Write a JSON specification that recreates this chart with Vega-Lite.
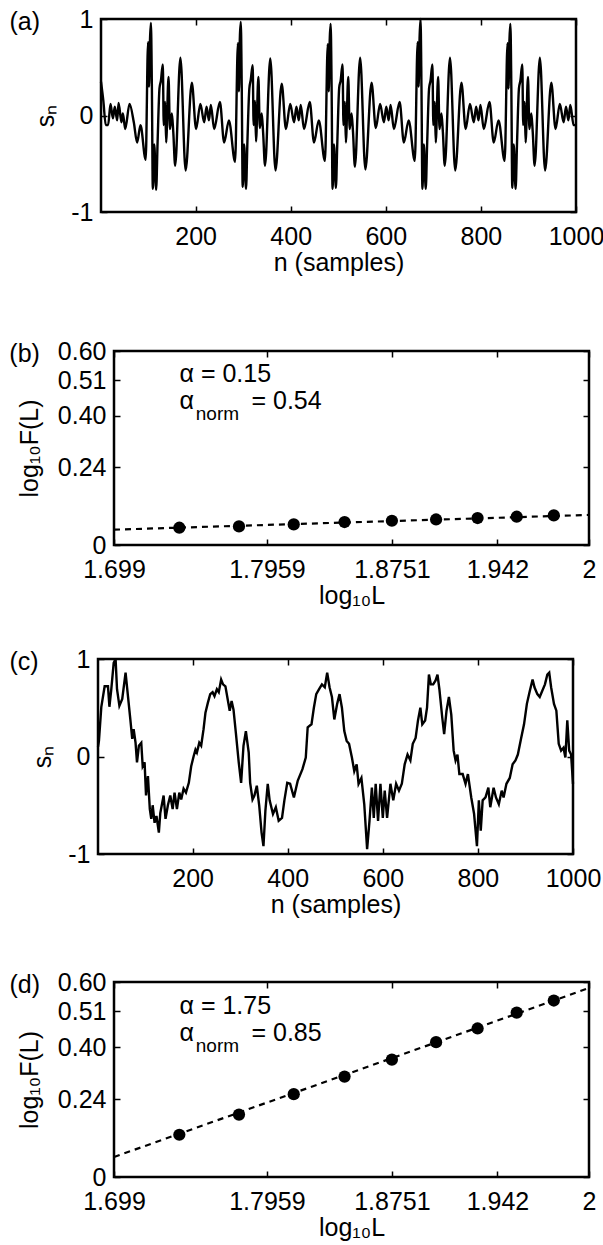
{
  "$schema": "https://vega.github.io/schema/vega-lite/v6.json",
  "padding": {"left": 7, "top": 5, "right": 0, "bottom": 0},
  "datasets": {
    "sigA": [
      {"n": 1, "s": 0.35}, {"n": 6, "s": 0.15}, {"n": 11, "s": -0.1}, {"n": 16, "s": -0.1}, {"n": 21, "s": 0.12},
      {"n": 26, "s": -0.03}, {"n": 30, "s": 0.09}, {"n": 35, "s": -0.05}, {"n": 38, "s": 0.13}, {"n": 44, "s": -0.07},
      {"n": 47, "s": 0.02}, {"n": 52, "s": -0.14}, {"n": 61, "s": 0.12}, {"n": 70, "s": -0.07}, {"n": 77, "s": -0.28},
      {"n": 84, "s": -0.1}, {"n": 95, "s": -0.46}, {"n": 100, "s": 0.76}, {"n": 102, "s": 0.3}, {"n": 104, "s": 0.78},
      {"n": 106, "s": 0.96}, {"n": 108, "s": 0.3}, {"n": 110, "s": -0.76}, {"n": 113, "s": -0.3}, {"n": 117, "s": -0.77},
      {"n": 120, "s": -0.28}, {"n": 124, "s": 0.28}, {"n": 127, "s": 0.36}, {"n": 131, "s": 0.53}, {"n": 133, "s": -0.1},
      {"n": 136, "s": 0.14}, {"n": 138, "s": -0.28}, {"n": 143, "s": 0.4}, {"n": 146, "s": -0.14}, {"n": 150, "s": 0.02},
      {"n": 153, "s": -0.17}, {"n": 157, "s": -0.52}, {"n": 168, "s": 0.6}, {"n": 179, "s": -0.57}, {"n": 192, "s": 0.34},
      {"n": 201, "s": -0.14}, {"n": 210, "s": 0.12}, {"n": 218, "s": -0.07}, {"n": 223, "s": 0.09}, {"n": 228, "s": -0.05},
      {"n": 232, "s": 0.11}, {"n": 239, "s": -0.14}, {"n": 251, "s": 0.14}, {"n": 260, "s": -0.28}, {"n": 270, "s": -0.05},
      {"n": 283, "s": -0.48}, {"n": 289, "s": 0.75}, {"n": 291, "s": 0.25}, {"n": 293, "s": 0.8}, {"n": 295, "s": 0.97},
      {"n": 297, "s": 0.3}, {"n": 299, "s": -0.74}, {"n": 302, "s": -0.3}, {"n": 306, "s": -0.76}, {"n": 309, "s": -0.26},
      {"n": 313, "s": 0.28}, {"n": 316, "s": 0.37}, {"n": 320, "s": 0.52}, {"n": 322, "s": -0.1}, {"n": 325, "s": 0.15},
      {"n": 327, "s": -0.27}, {"n": 332, "s": 0.4}, {"n": 335, "s": -0.13}, {"n": 339, "s": 0.02}, {"n": 342, "s": -0.18},
      {"n": 346, "s": -0.52}, {"n": 357, "s": 0.59}, {"n": 368, "s": -0.57}, {"n": 381, "s": 0.33}, {"n": 390, "s": -0.14},
      {"n": 399, "s": 0.12}, {"n": 407, "s": -0.07}, {"n": 412, "s": 0.09}, {"n": 417, "s": -0.05}, {"n": 421, "s": 0.11},
      {"n": 428, "s": -0.14}, {"n": 440, "s": 0.14}, {"n": 449, "s": -0.28}, {"n": 459, "s": -0.05}, {"n": 472, "s": -0.47},
      {"n": 478, "s": 0.74}, {"n": 480, "s": 0.25}, {"n": 482, "s": 0.78}, {"n": 484, "s": 0.95}, {"n": 486, "s": 0.3},
      {"n": 488, "s": -0.76}, {"n": 491, "s": -0.3}, {"n": 495, "s": -0.75}, {"n": 498, "s": -0.28}, {"n": 502, "s": 0.29},
      {"n": 505, "s": 0.36}, {"n": 509, "s": 0.53}, {"n": 511, "s": -0.1}, {"n": 514, "s": 0.14}, {"n": 516, "s": -0.28},
      {"n": 521, "s": 0.4}, {"n": 524, "s": -0.14}, {"n": 528, "s": 0.02}, {"n": 531, "s": -0.17}, {"n": 535, "s": -0.53},
      {"n": 546, "s": 0.6}, {"n": 557, "s": -0.56}, {"n": 570, "s": 0.34}, {"n": 579, "s": -0.13}, {"n": 588, "s": 0.12},
      {"n": 596, "s": -0.07}, {"n": 601, "s": 0.09}, {"n": 606, "s": -0.05}, {"n": 610, "s": 0.11}, {"n": 617, "s": -0.14},
      {"n": 629, "s": 0.14}, {"n": 638, "s": -0.28}, {"n": 648, "s": -0.05}, {"n": 661, "s": -0.47}, {"n": 667, "s": 0.76},
      {"n": 669, "s": 0.3}, {"n": 671, "s": 0.8}, {"n": 673, "s": 1.0}, {"n": 675, "s": 0.3}, {"n": 677, "s": -0.76},
      {"n": 680, "s": -0.3}, {"n": 684, "s": -0.76}, {"n": 687, "s": -0.28}, {"n": 691, "s": 0.28}, {"n": 694, "s": 0.36},
      {"n": 698, "s": 0.53}, {"n": 700, "s": -0.1}, {"n": 703, "s": 0.14}, {"n": 705, "s": -0.28}, {"n": 710, "s": 0.4},
      {"n": 713, "s": -0.14}, {"n": 717, "s": 0.02}, {"n": 720, "s": -0.17}, {"n": 724, "s": -0.52}, {"n": 735, "s": 0.6},
      {"n": 746, "s": -0.57}, {"n": 759, "s": 0.34}, {"n": 768, "s": -0.14}, {"n": 777, "s": 0.12}, {"n": 785, "s": -0.07},
      {"n": 790, "s": 0.09}, {"n": 795, "s": -0.05}, {"n": 799, "s": 0.11}, {"n": 806, "s": -0.14}, {"n": 818, "s": 0.14},
      {"n": 827, "s": -0.28}, {"n": 837, "s": -0.05}, {"n": 850, "s": -0.47}, {"n": 856, "s": 0.75}, {"n": 858, "s": 0.28},
      {"n": 860, "s": 0.78}, {"n": 862, "s": 0.95}, {"n": 864, "s": 0.3}, {"n": 866, "s": -0.75}, {"n": 869, "s": -0.3},
      {"n": 873, "s": -0.76}, {"n": 876, "s": -0.28}, {"n": 880, "s": 0.28}, {"n": 883, "s": 0.36}, {"n": 887, "s": 0.53},
      {"n": 889, "s": -0.1}, {"n": 892, "s": 0.14}, {"n": 894, "s": -0.28}, {"n": 899, "s": 0.4}, {"n": 902, "s": -0.14},
      {"n": 906, "s": 0.02}, {"n": 909, "s": -0.17}, {"n": 913, "s": -0.52}, {"n": 924, "s": 0.6}, {"n": 935, "s": -0.57},
      {"n": 948, "s": 0.34}, {"n": 957, "s": -0.14}, {"n": 966, "s": 0.12}, {"n": 974, "s": -0.07}, {"n": 979, "s": 0.09},
      {"n": 984, "s": -0.05}, {"n": 988, "s": 0.11}, {"n": 995, "s": -0.1}, {"n": 1000, "s": -0.1}
    ],
    "sigC": [
      {"n": 1, "s": 0.1}, {"n": 3, "s": 0.16}, {"n": 8, "s": 0.51}, {"n": 15, "s": 0.72}, {"n": 22, "s": 0.72},
      {"n": 25, "s": 0.51}, {"n": 29, "s": 0.69}, {"n": 34, "s": 0.96}, {"n": 38, "s": 1.0}, {"n": 41, "s": 0.69},
      {"n": 46, "s": 0.52}, {"n": 52, "s": 0.59}, {"n": 59, "s": 0.86}, {"n": 64, "s": 0.62}, {"n": 69, "s": 0.38},
      {"n": 73, "s": 0.18}, {"n": 76, "s": 0.28}, {"n": 80, "s": 0.14}, {"n": 83, "s": -0.06}, {"n": 87, "s": 0.11},
      {"n": 92, "s": 0.14}, {"n": 95, "s": -0.1}, {"n": 99, "s": -0.06}, {"n": 102, "s": -0.4}, {"n": 106, "s": -0.2},
      {"n": 110, "s": -0.54}, {"n": 113, "s": -0.64}, {"n": 116, "s": -0.5}, {"n": 120, "s": -0.68}, {"n": 124, "s": -0.61},
      {"n": 129, "s": -0.78}, {"n": 132, "s": -0.58}, {"n": 139, "s": -0.4}, {"n": 143, "s": -0.64}, {"n": 148, "s": -0.5},
      {"n": 153, "s": -0.4}, {"n": 158, "s": -0.54}, {"n": 162, "s": -0.37}, {"n": 167, "s": -0.54}, {"n": 172, "s": -0.37},
      {"n": 176, "s": -0.44}, {"n": 181, "s": -0.33}, {"n": 186, "s": -0.37}, {"n": 192, "s": -0.27}, {"n": 197, "s": -0.1},
      {"n": 202, "s": 0.0}, {"n": 206, "s": 0.07}, {"n": 209, "s": 0.04}, {"n": 214, "s": 0.14}, {"n": 218, "s": 0.11},
      {"n": 223, "s": 0.28}, {"n": 227, "s": 0.45}, {"n": 232, "s": 0.55}, {"n": 237, "s": 0.64}, {"n": 242, "s": 0.66},
      {"n": 246, "s": 0.62}, {"n": 251, "s": 0.69}, {"n": 255, "s": 0.66}, {"n": 260, "s": 0.79}, {"n": 264, "s": 0.74},
      {"n": 269, "s": 0.72}, {"n": 274, "s": 0.58}, {"n": 278, "s": 0.47}, {"n": 282, "s": 0.57}, {"n": 286, "s": 0.48},
      {"n": 291, "s": 0.24}, {"n": 297, "s": -0.06}, {"n": 302, "s": -0.27}, {"n": 307, "s": 0.11}, {"n": 312, "s": 0.26},
      {"n": 318, "s": 0.04}, {"n": 321, "s": -0.27}, {"n": 326, "s": -0.44}, {"n": 330, "s": -0.4}, {"n": 335, "s": -0.3},
      {"n": 340, "s": -0.5}, {"n": 345, "s": -0.78}, {"n": 349, "s": -0.92}, {"n": 353, "s": -0.56}, {"n": 358, "s": -0.28},
      {"n": 362, "s": -0.45}, {"n": 369, "s": -0.59}, {"n": 375, "s": -0.52}, {"n": 381, "s": -0.66}, {"n": 388, "s": -0.63},
      {"n": 393, "s": -0.45}, {"n": 399, "s": -0.27}, {"n": 405, "s": -0.28}, {"n": 413, "s": -0.42}, {"n": 421, "s": -0.25},
      {"n": 431, "s": -0.13}, {"n": 438, "s": -0.01}, {"n": 442, "s": 0.3}, {"n": 450, "s": 0.33}, {"n": 455, "s": 0.5},
      {"n": 460, "s": 0.64}, {"n": 466, "s": 0.69}, {"n": 472, "s": 0.74}, {"n": 478, "s": 0.71}, {"n": 483, "s": 0.86},
      {"n": 488, "s": 0.71}, {"n": 493, "s": 0.61}, {"n": 498, "s": 0.38}, {"n": 504, "s": 0.54}, {"n": 509, "s": 0.64},
      {"n": 514, "s": 0.5}, {"n": 519, "s": 0.26}, {"n": 524, "s": 0.16}, {"n": 529, "s": 0.13}, {"n": 535, "s": -0.01},
      {"n": 540, "s": -0.15}, {"n": 545, "s": -0.08}, {"n": 549, "s": -0.28}, {"n": 555, "s": -0.22}, {"n": 561, "s": -0.49},
      {"n": 567, "s": -0.95}, {"n": 572, "s": -0.66}, {"n": 577, "s": -0.32}, {"n": 581, "s": -0.63}, {"n": 585, "s": -0.28},
      {"n": 590, "s": -0.66}, {"n": 595, "s": -0.28}, {"n": 600, "s": -0.63}, {"n": 604, "s": -0.35}, {"n": 609, "s": -0.63},
      {"n": 616, "s": -0.28}, {"n": 622, "s": -0.45}, {"n": 628, "s": -0.28}, {"n": 634, "s": -0.35}, {"n": 640, "s": -0.28},
      {"n": 646, "s": -0.08}, {"n": 652, "s": 0.02}, {"n": 658, "s": -0.04}, {"n": 663, "s": 0.13}, {"n": 669, "s": 0.19},
      {"n": 674, "s": 0.37}, {"n": 679, "s": 0.5}, {"n": 683, "s": 0.33}, {"n": 689, "s": 0.37}, {"n": 693, "s": 0.5},
      {"n": 697, "s": 0.84}, {"n": 701, "s": 0.74}, {"n": 706, "s": 0.74}, {"n": 711, "s": 0.78}, {"n": 715, "s": 0.84},
      {"n": 719, "s": 0.69}, {"n": 725, "s": 0.4}, {"n": 729, "s": 0.23}, {"n": 734, "s": 0.47}, {"n": 739, "s": 0.61},
      {"n": 744, "s": 0.43}, {"n": 749, "s": 0.06}, {"n": 753, "s": -0.04}, {"n": 757, "s": 0.02}, {"n": 761, "s": -0.18},
      {"n": 768, "s": -0.18}, {"n": 774, "s": -0.28}, {"n": 779, "s": -0.18}, {"n": 786, "s": -0.42}, {"n": 792, "s": -0.59},
      {"n": 798, "s": -0.92}, {"n": 802, "s": -0.45}, {"n": 806, "s": -0.76}, {"n": 810, "s": -0.45}, {"n": 816, "s": -0.42},
      {"n": 822, "s": -0.32}, {"n": 826, "s": -0.52}, {"n": 833, "s": -0.32}, {"n": 838, "s": -0.42}, {"n": 844, "s": -0.49},
      {"n": 850, "s": -0.35}, {"n": 854, "s": -0.42}, {"n": 860, "s": -0.28}, {"n": 867, "s": -0.22}, {"n": 873, "s": -0.08},
      {"n": 879, "s": -0.04}, {"n": 884, "s": 0.02}, {"n": 891, "s": 0.19}, {"n": 897, "s": 0.33}, {"n": 903, "s": 0.54},
      {"n": 909, "s": 0.67}, {"n": 915, "s": 0.79}, {"n": 919, "s": 0.71}, {"n": 925, "s": 0.64}, {"n": 930, "s": 0.61},
      {"n": 935, "s": 0.67}, {"n": 941, "s": 0.74}, {"n": 946, "s": 0.84}, {"n": 950, "s": 0.86}, {"n": 954, "s": 0.71},
      {"n": 960, "s": 0.54}, {"n": 965, "s": 0.47}, {"n": 970, "s": 0.13}, {"n": 975, "s": 0.06}, {"n": 980, "s": 0.09},
      {"n": 984, "s": -0.01}, {"n": 988, "s": 0.37}, {"n": 992, "s": 0.06}, {"n": 996, "s": 0.02}, {"n": 1000, "s": -0.28}
    ],
    "dfaB": [
      {"logL": 1.7404, "logF": 0.0534}, {"logL": 1.7782, "logF": 0.0574}, {"logL": 1.8129, "logF": 0.0636},
      {"logL": 1.8451, "logF": 0.071}, {"logL": 1.8751, "logF": 0.075}, {"logL": 1.9031, "logF": 0.079},
      {"logL": 1.9294, "logF": 0.0834}, {"logL": 1.9542, "logF": 0.0874}, {"logL": 1.9777, "logF": 0.0914}
    ],
    "fitB": [{"logL": 1.699, "logF": 0.0474}, {"logL": 2, "logF": 0.093}],
    "dfaD": [
      {"logL": 1.7404, "logF": 0.13}, {"logL": 1.7782, "logF": 0.192}, {"logL": 1.8129, "logF": 0.255},
      {"logL": 1.8451, "logF": 0.309}, {"logL": 1.8751, "logF": 0.361}, {"logL": 1.9031, "logF": 0.415},
      {"logL": 1.9294, "logF": 0.457}, {"logL": 1.9542, "logF": 0.506}, {"logL": 1.9777, "logF": 0.543}
    ],
    "fitD": [{"logL": 1.699, "logF": 0.0615}, {"logL": 2, "logF": 0.5815}],
    "noteB": [
      {"logL": 1.7405, "logF": 0.504, "t": "α = 0.15"},
      {"logL": 1.7405, "logF": 0.42, "t": "α"},
      {"logL": 1.7861, "logF": 0.42, "t": "= 0.54"}
    ],
    "subB": [{"logL": 1.7508, "logF": 0.387, "t": "norm"}],
    "noteD": [
      {"logL": 1.7405, "logF": 0.503, "t": "α = 1.75"},
      {"logL": 1.7405, "logF": 0.419, "t": "α"},
      {"logL": 1.7861, "logF": 0.419, "t": "= 0.85"}
    ],
    "subD": [{"logL": 1.7508, "logF": 0.385, "t": "norm"}]
  },
  "spacing": 35,
  "vconcat": [
    {
      "spacing": 60,
      "vconcat": [
        {
          "spacing": 0,
          "hconcat": [
            {"width": 1, "height": 1, "view": {"stroke": null}, "data": {"values": []}, "mark": "text", "encoding": {}},
            {
              "width": 475,
              "height": 193,
              "title": {"text": "(a)", "anchor": "start", "frame": "group", "dx": -91.5, "baseline": "alphabetic", "offset": -48},
              "data": {"name": "sigA"},
              "layer": [
                {
                  "mark": {"type": "line", "color": "black", "strokeWidth": 2.4, "interpolate": "monotone"},
                  "encoding": {
                    "x": {"field": "n", "type": "quantitative", "scale": {"domain": [1, 1000], "nice": false, "zero": false},
                      "axis": {"orient": "bottom", "values": [200, 400, 600, 800, 1000], "labelExpr": "'' + datum.value", "title": "n (samples)", "labelPadding": 18, "titlePadding": 1}},
                    "y": {"field": "s", "type": "quantitative", "scale": {"domain": [-1, 1], "nice": false},
                      "axis": {"orient": "left", "values": [-1, 0, 1], "labelExpr": "'' + datum.value", "title": "sₙ", "labelPadding": 14, "titlePadding": 12}}
                  }
                },
                {
                  "mark": {"type": "line", "opacity": 0},
                  "encoding": {
                    "x": {"field": "n", "type": "quantitative", "axis": {"orient": "top", "values": [200, 400, 600, 800, 1000], "labels": false, "title": null}},
                    "y": {"field": "s", "type": "quantitative", "axis": {"orient": "right", "values": [-1, 0, 1], "labels": false, "title": null}}
                  }
                }
              ],
              "resolve": {"axis": {"x": "independent", "y": "independent"}}
            }
          ]
        },
        {
          "spacing": 0,
          "hconcat": [
            {"width": 1, "height": 1, "view": {"stroke": null}, "data": {"values": []}, "mark": "text", "encoding": {}},
            {
              "width": 475,
              "height": 194,
              "title": {"text": "(b)", "anchor": "start", "frame": "group", "dx": -104.7, "baseline": "alphabetic", "offset": -48},
              "layer": [
                {
                  "data": {"name": "fitB"},
                  "mark": {"type": "line", "color": "black", "strokeWidth": 2.2, "strokeDash": [6, 5]},
                  "encoding": {
                    "x": {"field": "logL", "type": "quantitative", "scale": {"domain": [1.699, 2], "nice": false, "zero": false},
                      "axis": {"orient": "bottom", "values": [1.699, 1.7959, 1.8751, 1.942, 2], "labelExpr": "'' + datum.value", "title": "log₁₀L", "labelPadding": 18, "titlePadding": 1}},
                    "y": {"field": "logF", "type": "quantitative", "scale": {"domain": [0, 0.6], "nice": false},
                      "axis": {"orient": "left", "values": [0, 0.24, 0.4, 0.51, 0.6], "labelExpr": "datum.value == 0 ? '0' : format(datum.value, '.2f')", "title": "log₁₀F(L)", "labelPadding": 14, "titlePadding": 15}}
                  }
                },
                {
                  "data": {"name": "dfaB"},
                  "mark": {"type": "point", "filled": true, "color": "black", "opacity": 1, "size": 150},
                  "encoding": {
                    "x": {"field": "logL", "type": "quantitative", "axis": {"orient": "top", "values": [1.699, 1.7959, 1.8751, 1.942, 2], "labels": false, "title": null}},
                    "y": {"field": "logF", "type": "quantitative", "axis": {"orient": "right", "values": [0, 0.24, 0.4, 0.51, 0.6], "labels": false, "title": null}}
                  }
                },
                {
                  "data": {"name": "noteB"},
                  "mark": {"type": "text", "align": "left", "baseline": "alphabetic", "fontSize": 25},
                  "encoding": {
                    "x": {"field": "logL", "type": "quantitative", "axis": null},
                    "y": {"field": "logF", "type": "quantitative", "axis": null},
                    "text": {"field": "t"}
                  }
                },
                {
                  "data": {"name": "subB"},
                  "mark": {"type": "text", "align": "left", "baseline": "alphabetic", "fontSize": 19},
                  "encoding": {
                    "x": {"field": "logL", "type": "quantitative", "axis": null},
                    "y": {"field": "logF", "type": "quantitative", "axis": null},
                    "text": {"field": "t"}
                  }
                }
              ],
              "resolve": {"axis": {"x": "independent", "y": "independent"}}
            }
          ]
        }
      ]
    },
    {
      "spacing": 49,
      "vconcat": [
        {
          "spacing": 0,
          "hconcat": [
            {"width": 1, "height": 1, "view": {"stroke": null}, "data": {"values": []}, "mark": "text", "encoding": {}},
            {
              "width": 475,
              "height": 195,
              "title": {"text": "(c)", "anchor": "start", "frame": "group", "dx": -88.5, "baseline": "alphabetic", "offset": -48},
              "data": {"name": "sigC"},
              "layer": [
                {
                  "mark": {"type": "line", "color": "black", "strokeWidth": 2.4},
                  "encoding": {
                    "x": {"field": "n", "type": "quantitative", "scale": {"domain": [1, 1000], "nice": false, "zero": false},
                      "axis": {"orient": "bottom", "values": [200, 400, 600, 800, 1000], "labelExpr": "'' + datum.value", "title": "n (samples)", "labelPadding": 18, "titlePadding": 1}},
                    "y": {"field": "s", "type": "quantitative", "scale": {"domain": [-1, 1], "nice": false},
                      "axis": {"orient": "left", "values": [-1, 0, 1], "labelExpr": "'' + datum.value", "title": "sₙ", "labelPadding": 14, "titlePadding": 12}}
                  }
                },
                {
                  "mark": {"type": "line", "opacity": 0},
                  "encoding": {
                    "x": {"field": "n", "type": "quantitative", "axis": {"orient": "top", "values": [200, 400, 600, 800, 1000], "labels": false, "title": null}},
                    "y": {"field": "s", "type": "quantitative", "axis": {"orient": "right", "values": [-1, 0, 1], "labels": false, "title": null}}
                  }
                }
              ],
              "resolve": {"axis": {"x": "independent", "y": "independent"}}
            }
          ]
        },
        {
          "spacing": 0,
          "hconcat": [
            {"width": 1, "height": 1, "view": {"stroke": null}, "data": {"values": []}, "mark": "text", "encoding": {}},
            {
              "width": 475,
              "height": 195,
              "title": {"text": "(d)", "anchor": "start", "frame": "group", "dx": -104.5, "baseline": "alphabetic", "offset": -48},
              "layer": [
                {
                  "data": {"name": "fitD"},
                  "mark": {"type": "line", "color": "black", "strokeWidth": 2.2, "strokeDash": [6, 5]},
                  "encoding": {
                    "x": {"field": "logL", "type": "quantitative", "scale": {"domain": [1.699, 2], "nice": false, "zero": false},
                      "axis": {"orient": "bottom", "values": [1.699, 1.7959, 1.8751, 1.942, 2], "labelExpr": "'' + datum.value", "title": "log₁₀L", "labelPadding": 18, "titlePadding": 1}},
                    "y": {"field": "logF", "type": "quantitative", "scale": {"domain": [0, 0.6], "nice": false},
                      "axis": {"orient": "left", "values": [0, 0.24, 0.4, 0.51, 0.6], "labelExpr": "datum.value == 0 ? '0' : format(datum.value, '.2f')", "title": "log₁₀F(L)", "labelPadding": 14, "titlePadding": 15}}
                  }
                },
                {
                  "data": {"name": "dfaD"},
                  "mark": {"type": "point", "filled": true, "color": "black", "opacity": 1, "size": 150},
                  "encoding": {
                    "x": {"field": "logL", "type": "quantitative", "axis": {"orient": "top", "values": [1.699, 1.7959, 1.8751, 1.942, 2], "labels": false, "title": null}},
                    "y": {"field": "logF", "type": "quantitative", "axis": {"orient": "right", "values": [0, 0.24, 0.4, 0.51, 0.6], "labels": false, "title": null}}
                  }
                },
                {
                  "data": {"name": "noteD"},
                  "mark": {"type": "text", "align": "left", "baseline": "alphabetic", "fontSize": 25},
                  "encoding": {
                    "x": {"field": "logL", "type": "quantitative", "axis": null},
                    "y": {"field": "logF", "type": "quantitative", "axis": null},
                    "text": {"field": "t"}
                  }
                },
                {
                  "data": {"name": "subD"},
                  "mark": {"type": "text", "align": "left", "baseline": "alphabetic", "fontSize": 19},
                  "encoding": {
                    "x": {"field": "logL", "type": "quantitative", "axis": null},
                    "y": {"field": "logF", "type": "quantitative", "axis": null},
                    "text": {"field": "t"}
                  }
                }
              ],
              "resolve": {"axis": {"x": "independent", "y": "independent"}}
            }
          ]
        }
      ]
    }
  ],
  "config": {
    "font": "Liberation Sans",
    "view": {"stroke": "black", "strokeWidth": 2.5},
    "axis": {
      "grid": false, "domain": false, "ticks": true, "tickColor": "black", "tickWidth": 1.5, "tickSize": -6,
      "labelFont": "Liberation Sans", "labelFontSize": 25, "labelColor": "black", "labelFlush": false, "labelOverlap": false,
      "titleFont": "Liberation Sans", "titleFontSize": 25, "titleFontWeight": "normal", "titleColor": "black"
    },
    "title": {"font": "Liberation Sans", "fontSize": 25, "fontWeight": "normal", "color": "black"},
    "text": {"font": "Liberation Sans", "color": "black"}
  }
}
